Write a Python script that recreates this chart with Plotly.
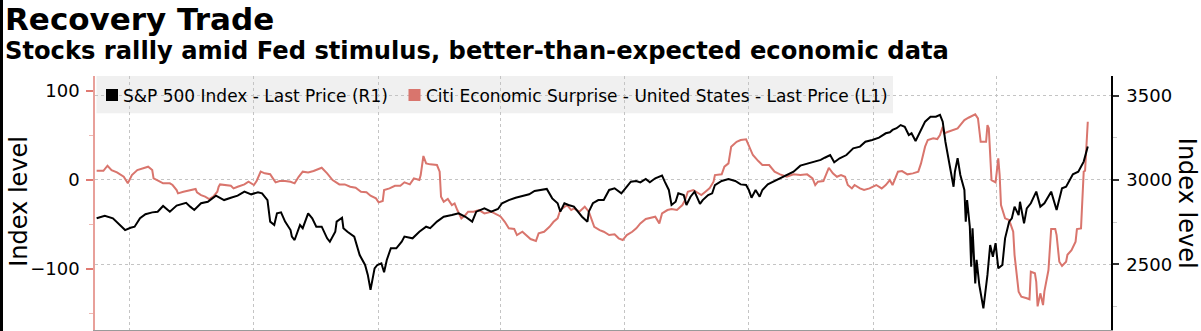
import plotly.graph_objects as go

# ---------------- data ----------------
spx_dates = [
    "2018-06-07", "2018-06-13", "2018-06-19", "2018-06-24", "2018-06-28", "2018-07-02", "2018-07-05",
    "2018-07-09", "2018-07-13", "2018-07-18", "2018-07-22", "2018-07-26", "2018-07-31", "2018-08-05",
    "2018-08-12", "2018-08-15", "2018-08-18", "2018-08-23", "2018-08-28", "2018-09-03", "2018-09-09",
    "2018-09-14", "2018-09-19", "2018-09-24", "2018-09-29", "2018-10-04", "2018-10-07", "2018-10-11",
    "2018-10-13", "2018-10-16", "2018-10-18", "2018-10-21", "2018-10-24", "2018-10-28", "2018-10-29",
    "2018-10-31", "2018-11-04", "2018-11-06", "2018-11-10", "2018-11-13", "2018-11-16", "2018-11-20",
    "2018-11-24", "2018-11-26", "2018-11-30", "2018-12-01", "2018-12-05", "2018-12-06", "2018-12-09",
    "2018-12-14", "2018-12-18", "2018-12-22", "2018-12-24", "2018-12-26", "2018-12-29", "2018-12-31",
    "2019-01-03", "2019-01-05", "2019-01-07", "2019-01-10", "2019-01-14", "2019-01-18", "2019-01-20",
    "2019-01-26", "2019-01-31", "2019-02-05", "2019-02-08", "2019-02-13", "2019-02-18", "2019-02-24",
    "2019-03-01", "2019-03-06", "2019-03-11", "2019-03-14", "2019-03-20", "2019-03-25", "2019-03-30",
    "2019-04-02", "2019-04-07", "2019-04-12", "2019-04-17", "2019-04-22", "2019-04-26", "2019-05-01",
    "2019-05-05", "2019-05-09", "2019-05-13", "2019-05-15", "2019-05-18", "2019-05-21", "2019-05-25",
    "2019-05-29", "2019-05-31", "2019-06-04", "2019-06-05", "2019-06-08", "2019-06-12", "2019-06-16",
    "2019-06-20", "2019-06-24", "2019-06-29", "2019-07-02", "2019-07-06", "2019-07-10", "2019-07-13",
    "2019-07-17", "2019-07-20", "2019-07-24", "2019-07-29", "2019-07-31", "2019-08-03", "2019-08-05",
    "2019-08-08", "2019-08-10", "2019-08-14", "2019-08-16", "2019-08-19", "2019-08-22", "2019-08-26",
    "2019-08-28", "2019-09-01", "2019-09-04", "2019-09-06", "2019-09-11", "2019-09-16", "2019-09-21",
    "2019-09-25", "2019-09-29", "2019-10-01", "2019-10-03", "2019-10-06", "2019-10-09", "2019-10-11",
    "2019-10-15", "2019-10-20", "2019-10-24", "2019-10-29", "2019-11-03", "2019-11-08", "2019-11-12",
    "2019-11-18", "2019-11-23", "2019-11-26", "2019-11-30", "2019-12-03", "2019-12-07", "2019-12-12",
    "2019-12-17", "2019-12-22", "2019-12-26", "2019-12-31", "2020-01-05", "2020-01-10", "2020-01-13",
    "2020-01-15", "2020-01-18", "2020-01-21", "2020-01-24", "2020-01-27", "2020-01-29", "2020-02-01",
    "2020-02-05", "2020-02-08", "2020-02-12", "2020-02-16", "2020-02-19", "2020-02-21", "2020-02-23",
    "2020-02-25", "2020-02-27", "2020-02-29", "2020-03-01", "2020-03-03", "2020-03-05", "2020-03-08",
    "2020-03-09", "2020-03-10", "2020-03-12", "2020-03-13", "2020-03-14", "2020-03-16", "2020-03-17",
    "2020-03-19", "2020-03-22", "2020-03-25", "2020-03-27", "2020-03-29", "2020-03-31", "2020-04-02",
    "2020-04-05", "2020-04-07", "2020-04-10", "2020-04-12", "2020-04-14", "2020-04-17", "2020-04-18",
    "2020-04-21", "2020-04-23", "2020-04-26", "2020-04-30", "2020-05-03", "2020-05-06", "2020-05-11",
    "2020-05-15", "2020-05-19", "2020-05-22", "2020-05-27", "2020-05-31", "2020-06-04", "2020-06-07",
]
spx_values = [
    2773, 2788, 2773, 2737, 2703, 2717, 2723,
    2773, 2797, 2808, 2812, 2846, 2812, 2848,
    2865, 2842, 2822, 2862, 2871, 2907, 2881,
    2895, 2907, 2931, 2915, 2927, 2921, 2881,
    2753, 2733, 2802, 2808, 2753, 2703, 2664,
    2644, 2733, 2714, 2802, 2773, 2723, 2723,
    2654, 2634, 2693, 2753, 2776, 2714, 2693,
    2664, 2555, 2496, 2437, 2348, 2476, 2496,
    2506, 2453, 2526, 2595, 2595, 2634, 2664,
    2654, 2693, 2723, 2714, 2753, 2782, 2792,
    2802, 2782, 2753, 2812, 2832, 2812, 2828,
    2862, 2881, 2895, 2905, 2915, 2935, 2941,
    2947, 2891, 2862, 2812, 2862, 2852, 2842,
    2802, 2782, 2753, 2812, 2862, 2881, 2881,
    2941, 2951, 2921, 2951, 2990, 2994, 2986,
    3006, 2986, 3010, 3026, 2990, 2941, 2852,
    2871, 2921, 2911, 2852, 2901, 2931, 2858,
    2881, 2911, 2921, 2970, 2994, 3006, 2994,
    2974, 2970, 2941, 2895, 2941, 2901, 2941,
    2974, 2994, 3006, 3030, 3049, 3085, 3093,
    3109, 3119, 3132, 3148, 3105, 3129, 3148,
    3188, 3198, 3227, 3237, 3251, 3277, 3283,
    3297, 3307, 3326, 3316, 3267, 3277, 3231,
    3302, 3346, 3375, 3375, 3386, 3346, 3227,
    3129, 3049, 2960, 3049, 3129, 3030, 2941,
    2753, 2881, 2723, 2486, 2714, 2387, 2526,
    2377, 2239, 2437, 2614, 2545, 2625, 2476,
    2496, 2654, 2753, 2773, 2842, 2792, 2871,
    2743, 2832, 2862, 2931, 2842, 2862, 2931,
    2822, 2951, 2960, 3034, 3049, 3109, 3198,
]

citi_dates = [
    "2018-06-07", "2018-06-12", "2018-06-15", "2018-06-18", "2018-06-22", "2018-06-27", "2018-06-30",
    "2018-07-03", "2018-07-07", "2018-07-12", "2018-07-15", "2018-07-18", "2018-07-19", "2018-07-23",
    "2018-07-26", "2018-07-31", "2018-08-02", "2018-08-05", "2018-08-06", "2018-08-10", "2018-08-15",
    "2018-08-19", "2018-08-20", "2018-08-23", "2018-08-26", "2018-08-29", "2018-09-01", "2018-09-04",
    "2018-09-05", "2018-09-06", "2018-09-14", "2018-09-16", "2018-09-19", "2018-09-24", "2018-09-27",
    "2018-10-01", "2018-10-03", "2018-10-06", "2018-10-09", "2018-10-13", "2018-10-15", "2018-10-17",
    "2018-10-20", "2018-10-24", "2018-10-28", "2018-10-31", "2018-11-03", "2018-11-06", "2018-11-10",
    "2018-11-14", "2018-11-20", "2018-11-24", "2018-11-28", "2018-12-03", "2018-12-07", "2018-12-11",
    "2018-12-15", "2018-12-19", "2018-12-23", "2018-12-26", "2018-12-30", "2019-01-01", "2019-01-04",
    "2019-01-05", "2019-01-09", "2019-01-13", "2019-01-17", "2019-01-20", "2019-01-24", "2019-01-27",
    "2019-01-31", "2019-02-01", "2019-02-03", "2019-02-05", "2019-02-08", "2019-02-13", "2019-02-15",
    "2019-02-16", "2019-02-18", "2019-02-21", "2019-02-24", "2019-02-26", "2019-02-28", "2019-03-03",
    "2019-03-06", "2019-03-08", "2019-03-12", "2019-03-16", "2019-03-20", "2019-03-25", "2019-03-30",
    "2019-04-01", "2019-04-04", "2019-04-07", "2019-04-11", "2019-04-13", "2019-04-17", "2019-04-21",
    "2019-04-23", "2019-04-27", "2019-04-29", "2019-05-03", "2019-05-07", "2019-05-10", "2019-05-13",
    "2019-05-15", "2019-05-18", "2019-05-20", "2019-05-23", "2019-05-25", "2019-05-29", "2019-06-02",
    "2019-06-05", "2019-06-09", "2019-06-13", "2019-06-16", "2019-06-20", "2019-06-24", "2019-06-27",
    "2019-06-30", "2019-07-03", "2019-07-07", "2019-07-10", "2019-07-13", "2019-07-17", "2019-07-20",
    "2019-07-24", "2019-07-27", "2019-07-29", "2019-08-02", "2019-08-05", "2019-08-09", "2019-08-13",
    "2019-08-15", "2019-08-17", "2019-08-21", "2019-08-25", "2019-08-27", "2019-08-30", "2019-09-02",
    "2019-09-05", "2019-09-06", "2019-09-11", "2019-09-13", "2019-09-16", "2019-09-18", "2019-09-22",
    "2019-09-25", "2019-09-29", "2019-10-01", "2019-10-04", "2019-10-08", "2019-10-11", "2019-10-16",
    "2019-10-20", "2019-10-24", "2019-10-29", "2019-11-03", "2019-11-08", "2019-11-13", "2019-11-17",
    "2019-11-19", "2019-11-21", "2019-11-25", "2019-11-27", "2019-11-29", "2019-12-02", "2019-12-05",
    "2019-12-08", "2019-12-11", "2019-12-13", "2019-12-16", "2019-12-18", "2019-12-22", "2019-12-25",
    "2019-12-29", "2020-01-03", "2020-01-07", "2020-01-10", "2020-01-13", "2020-01-15", "2020-01-19",
    "2020-01-22", "2020-01-26", "2020-01-30", "2020-02-03", "2020-02-05", "2020-02-08", "2020-02-10",
    "2020-02-14", "2020-02-17", "2020-02-19", "2020-02-21", "2020-02-22", "2020-02-25", "2020-02-28",
    "2020-03-03", "2020-03-06", "2020-03-08", "2020-03-11", "2020-03-14", "2020-03-16", "2020-03-18",
    "2020-03-19", "2020-03-20", "2020-03-24", "2020-03-25", "2020-03-26", "2020-03-28", "2020-03-31",
    "2020-04-02", "2020-04-03", "2020-04-04", "2020-04-07", "2020-04-10", "2020-04-13", "2020-04-14",
    "2020-04-17", "2020-04-19", "2020-04-23", "2020-04-25", "2020-04-26", "2020-04-29", "2020-04-30",
    "2020-05-01", "2020-05-03", "2020-05-05", "2020-05-06", "2020-05-09", "2020-05-11", "2020-05-14",
    "2020-05-15", "2020-05-17", "2020-05-19", "2020-05-22", "2020-05-23", "2020-05-26", "2020-05-29",
    "2020-05-30", "2020-06-02", "2020-06-04", "2020-06-05", "2020-06-07",
]
citi_values = [
    10.4, 10.4, 16.1, 11.2, 8.6, 3.7, -3.7,
    5.6, 11.2, 13.8, 15.0, 11.2, 1.9, -1.1,
    -3.7, -3.7, -5.6, -11.2, -15.0, -13.1, -11.2,
    -10.1, -13.8, -16.9, -18.7, -21.3, -18.7, -13.1,
    -7.5, -4.9, -6.4, -9.4, -7.5, -4.9, -1.9,
    -5.6, -1.1, 9.4, 7.5, 6.5, 1.9, -2.6,
    -1.1, -1.1, -2.0, -3.7, 3.7, 9.4, 8.6,
    10.1, 13.8, 7.5, 0.0, -4.9, -4.9, -7.5,
    -8.6, -13.1, -13.8, -17.6, -20.6, -25.1, -23.6,
    -11.2, -9.4, -6.4, -6.4, -2.6, -4.9, 1.9,
    0.0, 5.6, 27.0, 18.7, 17.6, 16.9, 9.4,
    -18.7, -24.4, -21.3, -28.1, -26.2, -33.7, -43.0,
    -39.3, -35.6, -35.6, -33.7, -37.5, -35.6, -39.3,
    -41.2, -46.9, -54.3, -55.0, -61.8, -58.1, -63.7,
    -66.3, -68.5, -59.9, -58.1, -52.5, -46.9, -43.0,
    -33.7, -30.0, -28.1, -33.7, -31.8, -35.6, -30.0,
    -35.6, -52.5, -56.2, -58.1, -61.8, -61.0, -65.5,
    -67.4, -61.8, -58.1, -54.3, -48.7, -43.8, -42.4,
    -41.2, -48.7, -37.5, -33.7, -32.6, -33.7, -28.1,
    -22.5, -13.1, -11.2, -15.0, -16.9, -13.1, -9.4,
    -1.9, 5.6, 6.4, 15.0, 18.7, 37.5, 43.0,
    45.0, 45.7, 39.3, 28.1, 21.3, 16.9, 16.9,
    9.4, 6.4, 3.7, 6.4, 5.6, 6.4, 1.9,
    -5.6, -1.9, -1.1, 5.6, 13.8, 7.5, 3.7,
    5.6, 3.7, -5.6, -9.4, -5.6, -9.4, -11.2,
    -9.4, -5.6, -9.4, -5.6, 0.0, -5.6, 9.4,
    10.1, 6.4, 7.5, 9.4, 18.7, 37.5, 45.0,
    46.9, 46.0, 50.6, 59.9, 52.5, 54.3, 56.2,
    58.1, 63.7, 67.4, 70.0, 72.2, 73.8, 69.3,
    58.1, 43.0, 43.0, 61.8, 58.1, 0.0, -2.6,
    24.4, 5.6, -28.1, -43.0, -45.0, -58.1, -84.3,
    -125.5, -131.1, -132.9, -134.0, -103.0, -104.8, -114.3,
    -142.0, -127.3, -140.5, -125.0, -101.1, -55.0, -55.0,
    -61.8, -91.8, -96.5, -91.8, -84.0, -78.7, -69.3,
    -55.1, -54.3, 9.4, 10.4, 65.5,
]

quarter_starts = ["2018-07-01", "2018-10-01", "2019-01-01", "2019-04-01",
                  "2019-07-01", "2019-10-01", "2020-01-01", "2020-04-01"]
left_ticks = [-100, 0, 100]
left_minor = [-150, -50, 50]
right_ticks = [2500, 3000, 3500]
right_minor = [2250, 2750, 3250]

title_text = "Recovery Trade"
subtitle_text = "Stocks rallly amid Fed stimulus, better-than-expected economic data"
spx_name = "S&P 500 Index - Last Price (R1)"
citi_name = "Citi Economic Surprise - United States - Last Price (L1)"
axis_title = "Index level"

# ---------------- layout geometry ----------------
W, H = 1201, 331
ML, MR, MT, MB = 95, 90, 76, 1
PW = W - ML - MR
PH = H - MT - MB


def px(x):
    return (x - ML) / PW


def py(y):
    return (H - MB - y) / PH


FONT = "DejaVu Sans"
RED = "#d9756d"
BLACK = "#000000"
GRID = "#c4c4c4"

fig = go.Figure()
fig.add_trace(go.Scatter(x=citi_dates, y=citi_values, mode="lines", name=citi_name,
                         line=dict(color=RED, width=2), yaxis="y", showlegend=False))
fig.add_trace(go.Scatter(x=spx_dates, y=spx_values, mode="lines", name=spx_name,
                         line=dict(color=BLACK, width=2), yaxis="y2", showlegend=False))

shapes = [
    # legend background box
    dict(type="rect", xref="paper", yref="paper", x0=px(96.5), x1=px(893), y0=py(113.3), y1=1.0,
         fillcolor="#f0f0f0", line=dict(width=0), layer="below"),
    # legend swatches
    dict(type="rect", xref="paper", yref="paper", x0=px(106), x1=px(118), y0=py(101), y1=py(89),
         fillcolor=BLACK, line=dict(width=0)),
    dict(type="rect", xref="paper", yref="paper", x0=px(408.5), x1=px(420.5), y0=py(101), y1=py(89),
         fillcolor=RED, line=dict(width=0)),
    # dark frame strip on the left edge
    dict(type="rect", xref="paper", yref="paper", x0=px(0), x1=px(3), y0=py(H), y1=py(0),
         fillcolor=BLACK, line=dict(width=0)),
]

annotations = [
    dict(text=title_text, xref="paper", yref="paper", x=px(4), y=py(18.8), xanchor="left",
         yanchor="middle", showarrow=False, borderpad=0,
         font=dict(family=FONT, size=31, color=BLACK, weight="bold")),
    dict(text=subtitle_text, xref="paper", yref="paper", x=px(4), y=py(51.2), xanchor="left",
         yanchor="middle", showarrow=False, borderpad=0,
         font=dict(family=FONT, size=24.2, color=BLACK, weight="bold")),
    dict(text=spx_name, xref="paper", yref="paper", x=px(121), y=py(95.5), xanchor="left",
         yanchor="middle", showarrow=False, font=dict(family=FONT, size=17, color=BLACK)),
    dict(text=citi_name, xref="paper", yref="paper", x=px(423.5), y=py(95.5), xanchor="left",
         yanchor="middle", showarrow=False, font=dict(family=FONT, size=17, color=BLACK)),
    dict(text=axis_title, xref="paper", yref="paper", x=px(18.3), y=py(201.5), xanchor="center",
         yanchor="middle", textangle=-90, showarrow=False, font=dict(family=FONT, size=24, color=BLACK)),
    dict(text=axis_title, xref="paper", yref="paper", x=px(1186.5), y=py(203.3), xanchor="center",
         yanchor="middle", textangle=90, showarrow=False, font=dict(family=FONT, size=24, color=BLACK)),
]

fig.update_layout(
    width=W, height=H,
    margin=dict(l=ML, r=MR, t=MT, b=MB, pad=0),
    paper_bgcolor="white", plot_bgcolor="white",
    showlegend=False,
    font=dict(family=FONT, size=18, color=BLACK),
    shapes=shapes,
    annotations=annotations,
    xaxis=dict(
        type="date", range=["2018-06-05 19:00", "2020-06-24 03:00"],
        tickmode="array", tickvals=quarter_starts, showticklabels=False, ticks="",
        showgrid=True, gridcolor=GRID, gridwidth=1, griddash="dot",
        showline=True, linecolor="#9a9a9a", linewidth=2, zeroline=False,
    ),
    yaxis=dict(
        range=[-168.5, 116.9], tickmode="array", tickvals=left_ticks,
        ticks="outside", ticklen=7, tickwidth=1.5, tickcolor="#e07a72",
        ticklabelstandoff=3,
        showline=True, linecolor="#e8a09a", linewidth=1.5,
        showgrid=False, zeroline=False,
        tickfont=dict(family=FONT, size=18, color=BLACK),
        minor=dict(tickmode="array", tickvals=left_minor, ticks="outside", ticklen=4,
                   tickcolor="#eeb8b3", tickwidth=1, showgrid=False),
    ),
    yaxis2=dict(
        range=[2110.3, 3616.8], overlaying="y", side="right", anchor="x",
        tickmode="array", tickvals=right_ticks,
        ticks="outside", ticklen=6, tickwidth=1.5, tickcolor="#333333",
        ticklabelstandoff=4,
        showline=True, linecolor=BLACK, linewidth=1.5,
        showgrid=True, gridcolor=GRID, gridwidth=1, griddash="dot", zeroline=False,
        tickfont=dict(family=FONT, size=18, color=BLACK),
        minor=dict(tickmode="array", tickvals=right_minor, ticks="outside", ticklen=4,
                   tickcolor="#cccccc", tickwidth=1, showgrid=False),
    ),
)

fig.write_html("out.html")
